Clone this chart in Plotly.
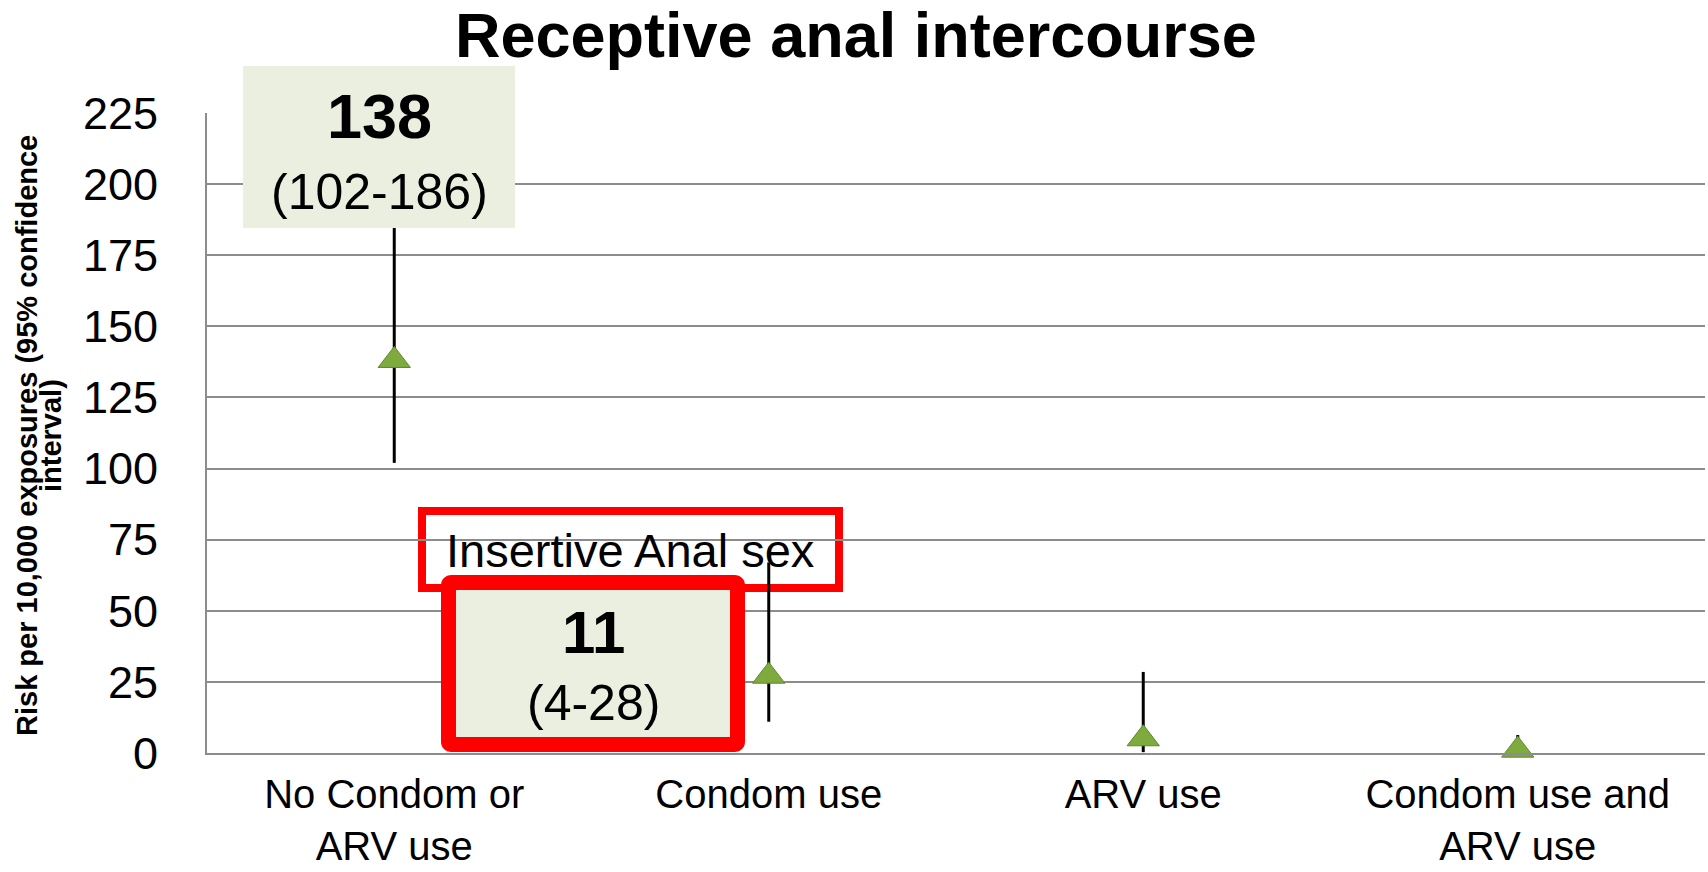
import plotly.graph_objects as go

# ---- data ----
categories = ["No Condom or<br>ARV use", "Condom use", "ARV use", "Condom use and<br>ARV use"]
risk = [138, 27, 5, 1]
ci_low = [102, 11, 0.3, 0.1]
ci_high = [186, 67, 28.5, 6.3]
y_ticks = [0, 25, 50, 75, 100, 125, 150, 175, 200, 225]

title_text = "Receptive anal intercourse"
y_title_lines = ["Risk per 10,000 exposures (95% confidence", "interval)"]
box1_main, box1_sub = "138", "(102-186)"
box2_label = "Insertive Anal sex"
box2_main, box2_sub = "11", "(4-28)"

# ---- layout geometry (pixels) ----
W, H = 1708, 872
L, R, T, B = 207, 1705, 113, 753
FONT = "Liberation Sans, Arial, sans-serif"
GREEN_FILL = "#ebefdf"
RED = "#ff0000"
GRID = "#8c8c8c"


def px(p):
    return (p - L) / (R - L)


def py(p):
    return (B - p) / (B - T)


err_plus = [h - v for h, v in zip(ci_high, risk)]
err_minus = [v - l for v, l in zip(risk, ci_low)]

fig = go.Figure()
fig.add_trace(go.Scatter(
    x=categories, y=risk, mode="markers",
    marker=dict(symbol="triangle-up", size=28, color="#7eaa3e",
                line=dict(color="#5f8a2b", width=1)),
    error_y=dict(type="data", array=err_plus, arrayminus=err_minus,
                 color="black", thickness=3, width=0),
    cliponaxis=False, showlegend=False, hoverinfo="skip",
))


def rounded_path(x0, y0, x1, y1, r):
    pts = [
        f"M {px(x0 + r)},{py(y0)}",
        f"L {px(x1 - r)},{py(y0)}",
        f"Q {px(x1)},{py(y0)} {px(x1)},{py(y0 + r)}",
        f"L {px(x1)},{py(y1 - r)}",
        f"Q {px(x1)},{py(y1)} {px(x1 - r)},{py(y1)}",
        f"L {px(x0 + r)},{py(y1)}",
        f"Q {px(x0)},{py(y1)} {px(x0)},{py(y1 - r)}",
        f"L {px(x0)},{py(y0 + r)}",
        f"Q {px(x0)},{py(y0)} {px(x0 + r)},{py(y0)}",
        "Z",
    ]
    return " ".join(pts)


shapes = [
    dict(type="rect", xref="paper", yref="paper",
         x0=px(243), x1=px(515), y0=py(228), y1=py(66),
         fillcolor=GREEN_FILL, line=dict(width=0), layer="above"),
    dict(type="rect", xref="paper", yref="paper",
         x0=px(422), x1=px(839), y0=py(588), y1=py(511),
         fillcolor="rgba(0,0,0,0)", line=dict(color=RED, width=8), layer="between"),
    dict(type="path", xref="paper", yref="paper",
         path=rounded_path(448.5, 582.5, 737.5, 744.5, 3),
         fillcolor=GREEN_FILL, line=dict(color=RED, width=15), layer="above"),
]

annotations = [
    dict(text=f"<b>{box1_main}</b>", x=px(379), y=py(116), xref="paper", yref="paper",
         showarrow=False, font=dict(family=FONT, size=63, color="black"),
         xanchor="center", yanchor="middle"),
    dict(text=box1_sub, x=px(379), y=py(192), xref="paper", yref="paper",
         showarrow=False, font=dict(family=FONT, size=50, color="black"),
         xanchor="center", yanchor="middle"),
    dict(text=box2_label, x=px(630), y=py(550), xref="paper", yref="paper",
         showarrow=False, font=dict(family=FONT, size=47, color="black"),
         xanchor="center", yanchor="middle"),
    dict(text=f"<b>{box2_main}</b>", x=px(593), y=py(632), xref="paper", yref="paper",
         showarrow=False, font=dict(family=FONT, size=60, color="black"),
         xanchor="center", yanchor="middle"),
    dict(text=box2_sub, x=px(593), y=py(703), xref="paper", yref="paper",
         showarrow=False, font=dict(family=FONT, size=50, color="black"),
         xanchor="center", yanchor="middle"),
    dict(text=f"<b>{y_title_lines[0]}</b>", x=px(27), y=py(436), xref="paper", yref="paper",
         showarrow=False, textangle=-90, font=dict(family=FONT, size=29, color="black"),
         xanchor="center", yanchor="middle"),
    dict(text=f"<b>{y_title_lines[1]}</b>", x=px(51), y=py(436), xref="paper", yref="paper",
         showarrow=False, textangle=-90, font=dict(family=FONT, size=29, color="black"),
         xanchor="center", yanchor="middle"),
    dict(text=f"<b>{title_text}</b>", x=px(856), y=py(35), xref="paper", yref="paper",
         showarrow=False, font=dict(family=FONT, size=63, color="black"),
         xanchor="center", yanchor="middle"),
]

fig.update_layout(
    width=W, height=H,
    margin=dict(l=L, r=W - R, t=T, b=H - B, pad=0, autoexpand=False),
    paper_bgcolor="white", plot_bgcolor="white",
    font=dict(family=FONT, color="black"),
    shapes=shapes, annotations=annotations,
    xaxis=dict(
        type="category", range=[-0.5, 3.5], automargin=False,
        showgrid=False, showline=True, linecolor=GRID, linewidth=2,
        ticks="", tickfont=dict(family=FONT, size=40, color="black"),
        ticklabelstandoff=5, zeroline=False, fixedrange=True,
    ),
    yaxis=dict(
        range=[0, 225], tickvals=y_ticks, automargin=False,
        showgrid=True, gridcolor=GRID, gridwidth=2,
        showline=True, linecolor=GRID, linewidth=2,
        ticks="", tickfont=dict(family=FONT, size=45, color="black"),
        ticklabelstandoff=38, zeroline=False, fixedrange=True,
    ),
)

fig.write_html("out.html", config={"displayModeBar": False},
               post_script="document.body.style.margin='0';document.body.style.overflow='hidden';")
